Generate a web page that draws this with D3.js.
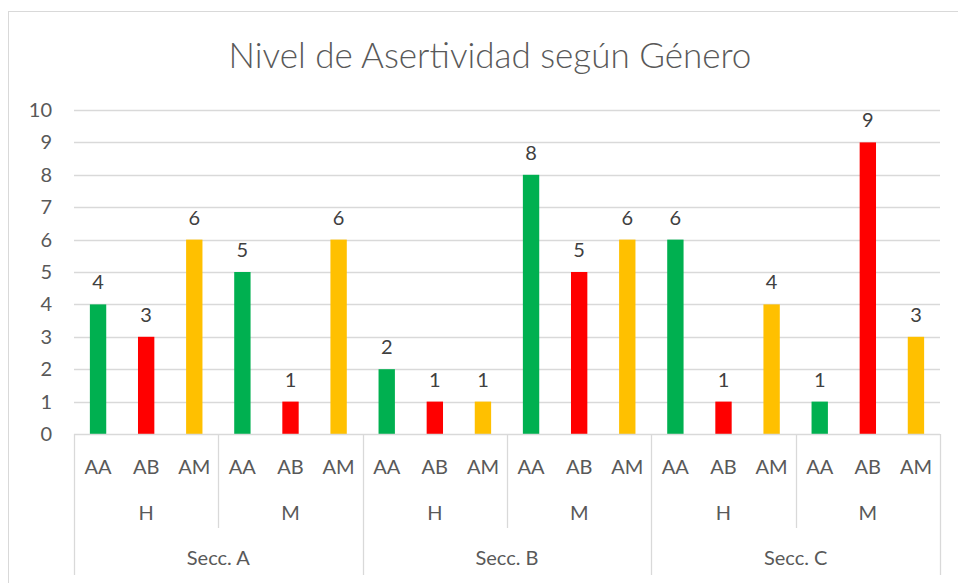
<!DOCTYPE html>
<html>
<head>
<meta charset="utf-8">
<script src="https://cdn.jsdelivr.net/npm/d3@7"></script>
<style>
  body { margin: 0; background: #fff; }
  text { font-family: Lato, "Open Sans", sans-serif; }
</style>
</head>
<body>
<svg id="chart" width="958" height="583"></svg>
<script>
// chart data
var sections = ["Secc. A", "Secc. B", "Secc. C"];
var genders = ["H", "M"];
var levels = ["AA", "AB", "AM"];
var levelColors = ["#00B050", "#FF0000", "#FFC000"];
// values per section, gender, level
var valuesA = [[4, 3, 6], [5, 1, 6]];
var valuesB = [[2, 1, 1], [8, 5, 6]];
var valuesC = [[6, 1, 4], [1, 9, 3]];
var yTicks = [0, 1, 2, 3, 4, 5, 6, 7, 8, 9, 10];

var allValues = [valuesA, valuesB, valuesC];
var rows = [];
sections.forEach(function(s, si) {
    genders.forEach(function(g, gi) {
        levels.forEach(function(l, li) {
            rows.push({sec: s, gen: g, lev: l, li: li,
                       key: s + "|" + g + "|" + l,
                       value: allValues[si][gi][li]});
        });
    });
});

var svg = d3.select("#chart");
var plotLeft = 74, plotRight = 940, plotTop = 110, base = 434;

// outer border
svg.append("rect")
    .attr("x", 8.5).attr("y", 11.5)
    .attr("width", 960).attr("height", 580)
    .attr("fill", "none").attr("stroke", "#d9d9d9");

svg.append("text")
    .attr("x", 490).attr("y", 68)
    .attr("text-anchor", "middle")
    .attr("font-size", 35)
    .attr("font-weight", 300)
    .attr("fill", "#595959")
    .text("Nivel de Asertividad según Género");

var x = d3.scaleBand().domain(rows.map(function(d) { return d.key; }))
    .range([plotLeft, plotRight]).paddingInner(0.66).paddingOuter(0.33);
var y = d3.scaleLinear().domain([0, 10]).range([base, plotTop]);

// gridlines
svg.append("g").selectAll("line").data(yTicks.slice(1)).join("line")
    .attr("x1", plotLeft).attr("x2", plotRight)
    .attr("y1", function(d) { return Math.round(y(d)) + 0.5; })
    .attr("y2", function(d) { return Math.round(y(d)) + 0.5; })
    .attr("stroke", "#d9d9d9").attr("stroke-width", 1.3);

// y axis labels
var yAxis = d3.axisLeft(y).tickValues(yTicks).tickSize(0).tickPadding(0);
var yg = svg.append("g").attr("transform", "translate(52,0)").call(yAxis);
yg.select(".domain").remove();
yg.selectAll("text").attr("font-size", 20).attr("fill", "#595959")
    .attr("font-family", "Lato, 'Open Sans', sans-serif");

// bars
svg.append("g").selectAll("rect").data(rows).join("rect")
    .attr("x", function(d) { return x(d.key); })
    .attr("width", x.bandwidth())
    .attr("y", function(d) { return y(d.value); })
    .attr("height", function(d) { return base - y(d.value); })
    .attr("fill", function(d) { return levelColors[d.li]; });

// data labels
svg.append("g").selectAll("text").data(rows).join("text")
    .attr("x", function(d) { return x(d.key) + x.bandwidth() / 2; })
    .attr("y", function(d) { return y(d.value) - 15; })
    .attr("text-anchor", "middle")
    .attr("font-size", 20).attr("fill", "#404040")
    .text(function(d) { return d.value; });

// multi-level category axis
var step = (plotRight - plotLeft) / rows.length;
var axisG = svg.append("g").attr("stroke", "#d9d9d9").attr("stroke-width", 1.3);
axisG.append("line").attr("x1", plotLeft).attr("x2", plotRight)
    .attr("y1", base + 0.5).attr("y2", base + 0.5);
// section separators (full height)
d3.range(sections.length + 1).forEach(function(i) {
    var xx = Math.round(plotLeft + i * step * 6) + 0.5;
    axisG.append("line").attr("x1", xx).attr("x2", xx)
        .attr("y1", base).attr("y2", 575);
});
// gender separators
sections.forEach(function(s, si) {
    var xx = Math.round(plotLeft + (si * 6 + 3) * step) + 0.5;
    axisG.append("line").attr("x1", xx).attr("x2", xx)
        .attr("y1", base).attr("y2", 528);
});

var lab = svg.append("g").attr("fill", "#595959").attr("font-size", 20)
    .attr("text-anchor", "middle");
rows.forEach(function(d) {
    lab.append("text").attr("x", x(d.key) + x.bandwidth() / 2)
        .attr("y", 474).text(d.lev);
});
sections.forEach(function(s, si) {
    genders.forEach(function(g, gi) {
        lab.append("text")
            .attr("x", plotLeft + (si * 6 + gi * 3 + 1.5) * step)
            .attr("y", 520).text(g);
    });
    lab.append("text").attr("x", plotLeft + (si * 6 + 3) * step)
        .attr("y", 565).text(s);
});
</script>
</body>
</html>
